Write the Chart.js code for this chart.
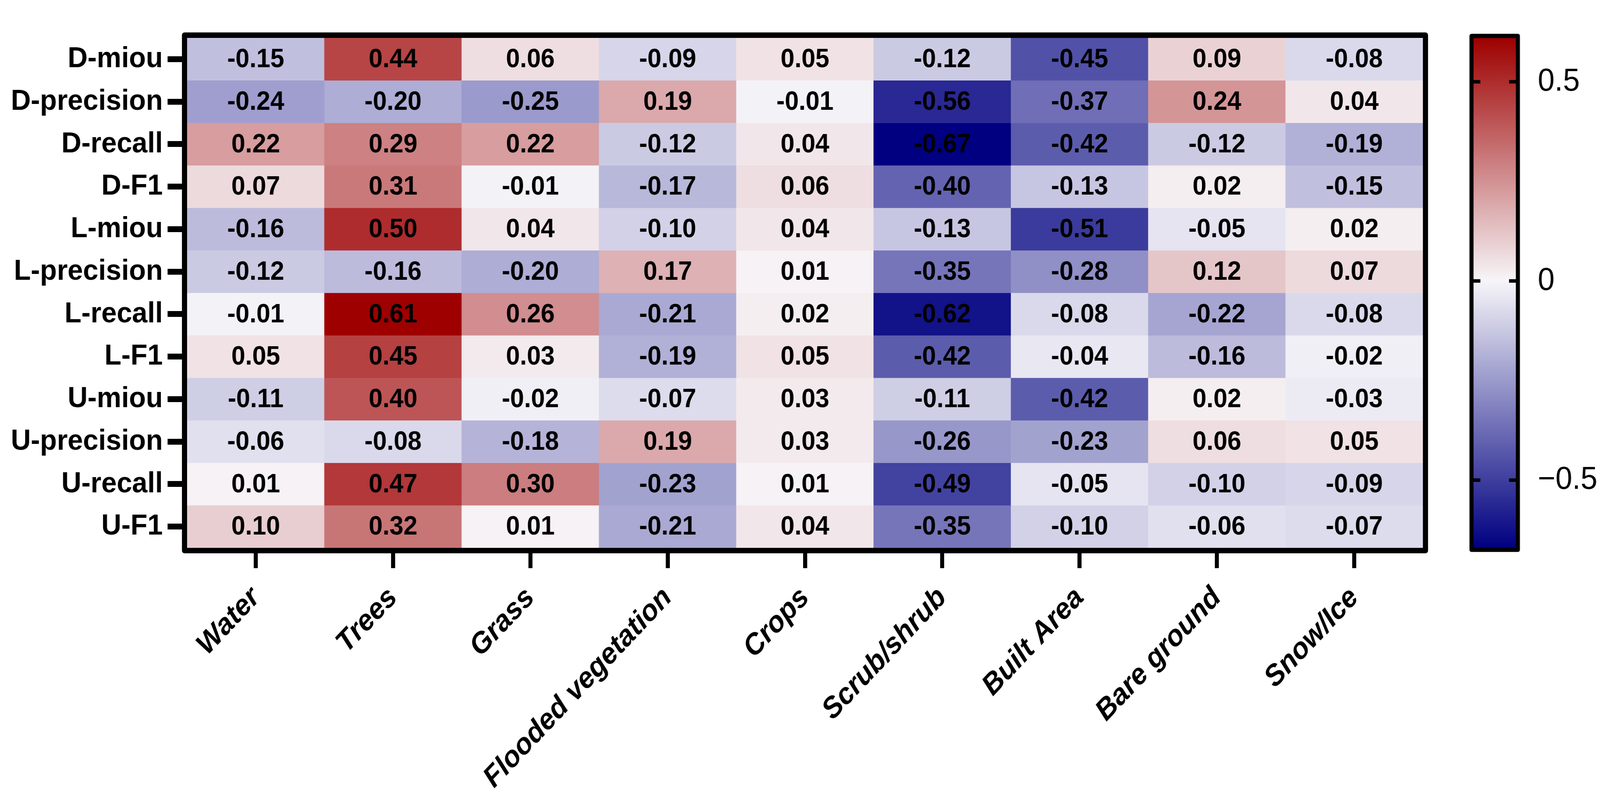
<!DOCTYPE html>
<html>
<head>
<meta charset="utf-8">
<script src="https://cdn.jsdelivr.net/npm/chart.js@4.4.1/dist/chart.umd.min.js"></script>
<style>
  html, body { margin: 0; padding: 0; background: #fff; overflow: hidden; }
  canvas { display: block; }
</style>
</head>
<body>
<!-- bitmap stays at the reference size; CSS fits it into the window -->
<canvas id="heatmap" width="4345" height="2055" style="width: 100vw; height: 100vh;"></canvas>
<script>
// Correlation heatmap: segmentation metrics vs land cover classes

const categories = ['Water', 'Trees', 'Grass', 'Flooded vegetation', 'Crops', 'Scrub/shrub', 'Built Area', 'Bare ground', 'Snow/Ice'];
const metrics = ['D-miou', 'D-precision', 'D-recall', 'D-F1', 'L-miou', 'L-precision', 'L-recall', 'L-F1', 'U-miou', 'U-precision', 'U-recall', 'U-F1'];

const dMiou       = [-0.15, 0.44, 0.06, -0.09, 0.05, -0.12, -0.45, 0.09, -0.08];
const dPrecision  = [-0.24, -0.20, -0.25, 0.19, -0.01, -0.56, -0.37, 0.24, 0.04];
const dRecall     = [0.22, 0.29, 0.22, -0.12, 0.04, -0.67, -0.42, -0.12, -0.19];
const dF1         = [0.07, 0.31, -0.01, -0.17, 0.06, -0.40, -0.13, 0.02, -0.15];
const lMiou       = [-0.16, 0.50, 0.04, -0.10, 0.04, -0.13, -0.51, -0.05, 0.02];
const lPrecision  = [-0.12, -0.16, -0.20, 0.17, 0.01, -0.35, -0.28, 0.12, 0.07];
const lRecall     = [-0.01, 0.61, 0.26, -0.21, 0.02, -0.62, -0.08, -0.22, -0.08];
const lF1         = [0.05, 0.45, 0.03, -0.19, 0.05, -0.42, -0.04, -0.16, -0.02];
const uMiou       = [-0.11, 0.40, -0.02, -0.07, 0.03, -0.11, -0.42, 0.02, -0.03];
const uPrecision  = [-0.06, -0.08, -0.18, 0.19, 0.03, -0.26, -0.23, 0.06, 0.05];
const uRecall     = [0.01, 0.47, 0.30, -0.23, 0.01, -0.49, -0.05, -0.10, -0.09];
const uF1         = [0.10, 0.32, 0.01, -0.21, 0.04, -0.35, -0.10, -0.06, -0.07];

const rows = [dMiou, dPrecision, dRecall, dF1, lMiou, lPrecision, lRecall, lF1, uMiou, uPrecision, uRecall, uF1];

// colour bar range and ticks
const colorMin = -0.67;
const colorMax = 0.61;
const colorTicks = [-0.5, 0, 0.5];

const WHITE = [247, 246, 249];
const RED = [158, 0, 0];
const BLUE = [0, 0, 128];

function cellColor(v) {
  const end = v >= 0 ? RED : BLUE;
  let t = v >= 0 ? v / colorMax : v / colorMin;
  t = Math.max(0, Math.min(1, t));
  const c = WHITE.map((w, i) => Math.round(w + (end[i] - w) * t));
  return `rgb(${c[0]}, ${c[1]}, ${c[2]})`;
}

// Plugin: values inside the cells
const cellLabels = {
  id: 'cellLabels',
  afterDatasetsDraw(chart) {
    const ctx = chart.ctx;
    ctx.save();
    ctx.fillStyle = '#000';
    ctx.font = 'bold 68px "Liberation Sans", Arial, sans-serif';
    ctx.textAlign = 'center';
    ctx.textBaseline = 'middle';
    chart.data.datasets.forEach((ds, di) => {
      const meta = chart.getDatasetMeta(di);
      meta.data.forEach((bar, i) => {
        ctx.fillText(ds.values[i].toFixed(2), bar.x, (bar.y + bar.base) / 2 + 2);
      });
    });
    ctx.restore();
  }
};

// Plugin: thick frame round the grid + colour bar
const frameAndBar = {
  id: 'frameAndBar',
  afterDraw(chart) {
    const ctx = chart.ctx;
    const area = chart.chartArea;
    const cb = chart.scales.cb;
    ctx.save();

    ctx.strokeStyle = '#000';
    ctx.lineWidth = 14;
    ctx.lineJoin = 'round';
    ctx.strokeRect(area.left - 7, area.top - 7, area.right - area.left + 14, area.bottom - area.top + 14);

    const x0 = cb.left + 137;
    const x1 = cb.left + 253;
    const yTop = cb.getPixelForValue(colorMax);
    const yBot = cb.getPixelForValue(colorMin);
    const grad = ctx.createLinearGradient(0, yTop, 0, yBot);
    const steps = 40;
    for (let s = 0; s <= steps; s++) {
      const v = colorMax + (colorMin - colorMax) * s / steps;
      grad.addColorStop(s / steps, cellColor(v));
    }
    ctx.fillStyle = grad;
    ctx.fillRect(x0, yTop, x1 - x0, yBot - yTop);
    ctx.lineWidth = 11;
    ctx.strokeRect(x0 - 5, yTop - 5, x1 - x0 + 10, yBot - yTop + 10);

    // small tick marks on both inner sides of the bar
    ctx.lineWidth = 9;
    colorTicks.forEach(t => {
      const y = cb.getPixelForValue(t);
      ctx.beginPath();
      ctx.moveTo(x0, y); ctx.lineTo(x0 + 19, y);
      ctx.moveTo(x1 - 19, y); ctx.lineTo(x1, y);
      ctx.stroke();
    });
    ctx.restore();
  }
};

const datasets = rows.map((row, r) => ({
  label: metrics[r],
  values: row,
  data: row.map(() => [r, r + 1]),
  backgroundColor: row.map(v => cellColor(v)),
  borderWidth: 0,
  grouped: false,
  barPercentage: 1,
  categoryPercentage: 1,
  yAxisID: 'y'
}));

// empty helper dataset so the colour bar axis gets laid out
datasets.push({ label: 'colorbar', values: [], data: [], yAxisID: 'cb' });

new Chart(document.getElementById('heatmap'), {
  type: 'bar',
  data: {
    labels: categories,
    datasets: datasets
  },
  options: {
    responsive: false,
    devicePixelRatio: 1,
    animation: false,
    layout: {
      padding: { top: 97, left: 0, right: 0, bottom: 0 }
    },
    plugins: {
      legend: { display: false },
      tooltip: { enabled: false }
    },
    scales: {
      x: {
        type: 'category',
        offset: true,
        grid: {
          offset: false,
          drawOnChartArea: false,
          tickLength: 52,
          tickWidth: 11,
          tickColor: '#000'
        },
        border: { display: false },
        ticks: {
          autoSkip: false,
          maxRotation: 45,
          minRotation: 45,
          padding: 32,
          color: '#000',
          font: { family: '"Liberation Sans", Arial, sans-serif', size: 75, weight: 'bold', style: 'italic' }
        },
        afterFit(scale) { scale.height = 653; }
      },
      y: {
        type: 'linear',
        position: 'left',
        min: 0,
        max: metrics.length,
        reverse: true,
        grid: {
          drawOnChartArea: false,
          tickLength: 53,
          tickWidth: 15,
          tickColor: '#000'
        },
        border: { display: false },
        afterBuildTicks(axis) {
          axis.ticks = metrics.map((m, i) => ({ value: i + 0.5 }));
        },
        ticks: {
          autoSkip: false,
          padding: 13,
          color: '#000',
          font: { family: '"Liberation Sans", Arial, sans-serif', size: 75, weight: 'bold' },
          callback: (value, index) => metrics[index]
        },
        afterFit(scale) {
          scale.width = 508;
          scale.paddingTop = 0;
          scale.paddingBottom = 0;
        }
      },
      cb: {
        type: 'linear',
        position: 'right',
        min: colorMin,
        max: colorMax,
        grid: { display: false },
        border: { display: false },
        afterBuildTicks(axis) {
          axis.ticks = colorTicks.map(v => ({ value: v }));
        },
        ticks: {
          padding: 304,
          color: '#000',
          font: { family: '"Liberation Sans", Arial, sans-serif', size: 82 },
          callback: v => (v === 0 ? '0' : (v < 0 ? '\u2212' : '') + Math.abs(v).toFixed(1))
        },
        afterFit(scale) {
          scale.width = 481;
          // the big label offset must not push the plot area down
          scale.paddingTop = 0;
          scale.paddingBottom = 0;
        }
      }
    }
  },
  plugins: [cellLabels, frameAndBar]
});
</script>
</body>
</html>
